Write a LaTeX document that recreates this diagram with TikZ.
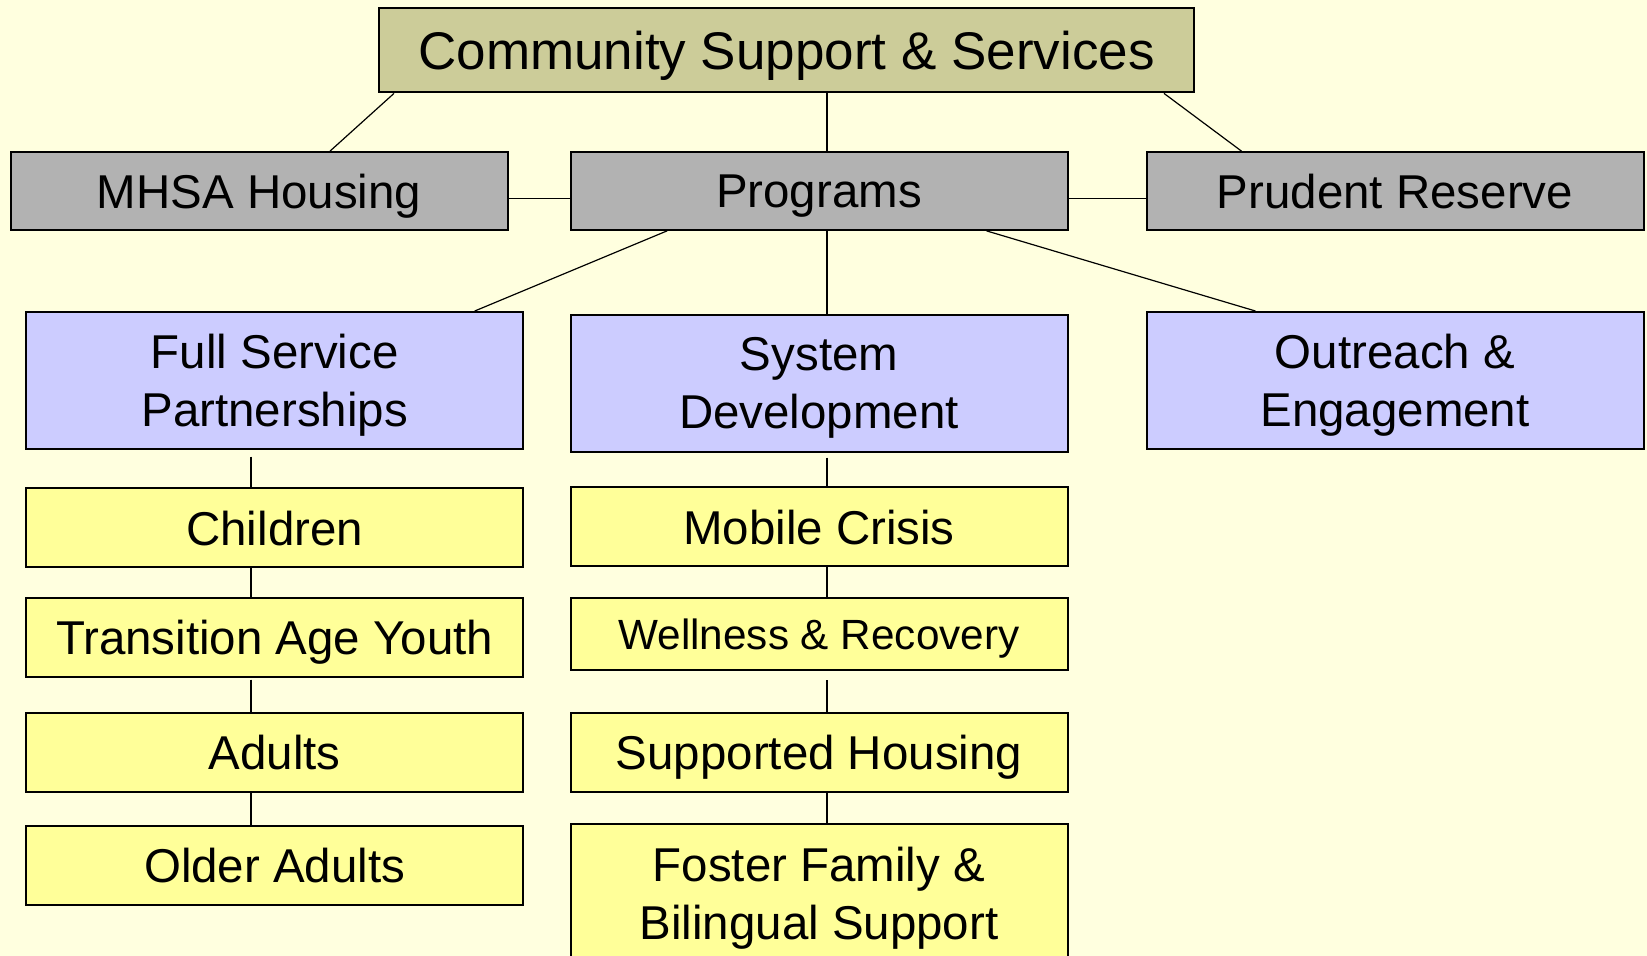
\documentclass[tikz,border=0pt]{standalone}
\usepackage{fontspec}
\setmainfont{Liberation Sans}
\usetikzlibrary{calc}
\definecolor{bg}{HTML}{FFFFDF}
\definecolor{olivefill}{HTML}{CCCC99}
\definecolor{grayfill}{HTML}{B2B2B2}
\definecolor{bluefill}{HTML}{CCCCFF}
\definecolor{yellowfill}{HTML}{FFFF99}
\begin{document}
\begin{tikzpicture}[x=0.75pt,y=-0.75pt,
  box/.style={draw=black, line width=1.5pt, inner sep=0pt, minimum width=372.75pt,
    align=center, text depth=0pt, font=\fontsize{35.6}{43.5}\selectfont},
  topbox/.style={box, fill=olivefill, minimum width=611.25pt, minimum height=63pt,
    font=\fontsize{39.75}{47}\selectfont},
  graybox/.style={box, fill=grayfill, minimum height=58.3pt},
  bluebox/.style={box, fill=bluefill, minimum height=102.4pt},
  ybox/.style={box, fill=yellowfill, minimum height=59.1pt},
  conn/.style={draw=black, line width=0.9pt}]
\fill[bg] (0,0) rectangle (1647,956);
\useasboundingbox (0,0) rectangle (1647,956);

\node[topbox] (top) at (786.5,50.4) {Community Support \& Services};
\node[graybox] (mhsa) at (259,191) {MHSA Housing};
\node[graybox] (prog) at (819,191) {Programs};
\node[graybox] (prud) at (1395,191) {Prudent Reserve};
\node[bluebox] (fsp) at (274.7,380.3) {Full Service\\Partnerships};
\node[bluebox] (sd) at (819,383.4) {System\\Development};
\node[bluebox] (out) at (1395,380.3) {Outreach \&\\Engagement};
\node[ybox] (chi) at (274.7,527.8) {Children};
\node[ybox] (tay) at (274.7,637.1) {Transition Age Youth};
\node[ybox] (adu) at (274.7,752.1) {Adults};
\node[ybox] (old) at (274.7,865.5) {Older Adults};
\node[ybox] (mob) at (819,526.8) {Mobile Crisis};
\node[ybox, minimum height=54.4pt, font=\fontsize{31.7}{38}\selectfont] (wel) at (819,634) {Wellness \& Recovery};
\node[ybox] (sup) at (819,752.1) {Supported Housing};
\node[ybox, minimum height=104.25pt] (fos) at (819,893) {Foster Family \&\\Bilingual Support};

\draw[conn] ($(top.south west)+(16,0)$) -- ($(mhsa.north west)+(320.5,0)$);
\draw[conn] ($(top.south)+(40.5,0)$) -- ($(prog.north)+(8,0)$);
\draw[conn] ($(top.south east)+(-31,0)$) -- ($(prud.north west)+(96,0)$);
\draw[conn] ($(mhsa.east)+(0,7.5)$) -- ($(prog.west)+(0,7.5)$);
\draw[conn] ($(prog.east)+(0,7.5)$) -- ($(prud.west)+(0,7.5)$);
\draw[conn] ($(prog.south west)+(97.6,0)$) -- ($(fsp.north west)+(449.5,0)$);
\draw[conn] ($(prog.south)+(8,0)$) -- ($(sd.north)+(8,0)$);
\draw[conn] ($(prog.south east)+(-82,0)$) -- ($(out.north west)+(110,0)$);
\draw[conn] ($(fsp.south)+(-23.7,7)$) -- ($(chi.north)+(-23.7,0)$);
\draw[conn] ($(chi.south)+(-23.7,0)$) -- ($(tay.north)+(-23.7,2)$);
\draw[conn] ($(tay.south)+(-23.7,2)$) -- ($(adu.north)+(-23.7,0)$);
\draw[conn] ($(adu.south)+(-23.7,0)$) -- ($(old.north)+(-23.7,0)$);
\draw[conn] ($(sd.south)+(8,5)$) -- ($(mob.north)+(8,0)$);
\draw[conn] ($(mob.south)+(8,0)$) -- ($(wel.north)+(8,2)$);
\draw[conn] ($(wel.south)+(8,9)$) -- ($(sup.north)+(8,0)$);
\draw[conn] ($(sup.south)+(8,0)$) -- ($(fos.north)+(8,0)$);
\end{tikzpicture}
\end{document}
